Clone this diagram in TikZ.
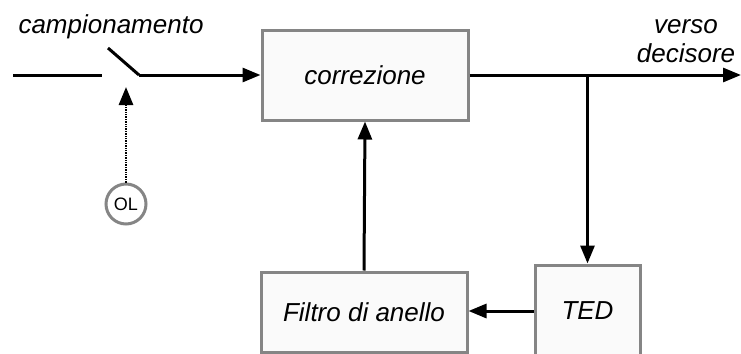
\documentclass[tikz,border=0pt]{standalone}
\usepackage{fontspec}
\setmainfont{Liberation Sans}
\usetikzlibrary{arrows.meta,positioning}

\tikzset{
  blocco/.style={draw=black!48, fill=black!2, line width=1.5pt, inner sep=0pt,
    font=\fontsize{13}{15}\selectfont\itshape},
  linea/.style={line width=1.5pt},
  freccia/.style={linea, -{Triangle[length=9pt,width=7pt]}},
  etichetta/.style={font=\fontsize{13}{15}\selectfont\itshape, inner sep=0pt},
}

\begin{document}
\begin{tikzpicture}[x=0.5pt,y=-0.5pt]
    \useasboundingbox (0,0) rectangle (741,354);
    \begin{scope}
        \clip (0,0) rectangle (741,354);

        % blocchi
        \node[blocco, minimum width=103pt, minimum height=45pt] (corr) at (365,75) {correzione};
        \node[blocco, minimum width=103pt, minimum height=40pt] (filtro) at (364,312) {Filtro di anello};
        \node[blocco, minimum width=52.5pt, minimum height=46pt] (ted) at (587.5,311) {TED};

        % oscillatore locale
        \node[draw=black!48, line width=1.5pt, circle, minimum size=20pt, inner sep=0pt,
              font=\fontsize{9}{10}\selectfont] (ol) at (126,204) {OL};

        % interruttore di campionamento
        \coordinate (ingresso) at (13,75);
        \coordinate (sw_a) at (102,75);
        \coordinate (sw_b) at (108,48);
        \coordinate (sw_c) at (139,75);
        \coordinate (sw_tip) at (126,87);
        \draw[linea] (ingresso) -- (sw_a);
        \draw[linea] (sw_b) -- (sw_c);
        \draw[freccia] (sw_c) -- (corr.west);
        \draw[freccia, line width=1.4pt, dash pattern=on 0.7pt off 0.5pt] (ol) -- (sw_tip);

        % uscita e anello
        \coordinate (bivio) at (587.5,75);
        \coordinate (uscita) at (741,75);
        \draw[freccia] (corr.east) -- (uscita);
        \draw[freccia] (bivio) -- (ted.north);
        \draw[freccia] (ted.west) -- (ted.west -| filtro.east);
        \draw[freccia] (filtro.north) -- (corr.south);

        % etichette
        \node[etichetta, anchor=base] (camp) at (111,33) {campionamento};
        \node[etichetta, anchor=base] (verso) at (686,33.5) {verso};
        \node[etichetta, anchor=base] (decis) at (686,62) {decisore};
    \end{scope}
\end{tikzpicture}
\end{document}
